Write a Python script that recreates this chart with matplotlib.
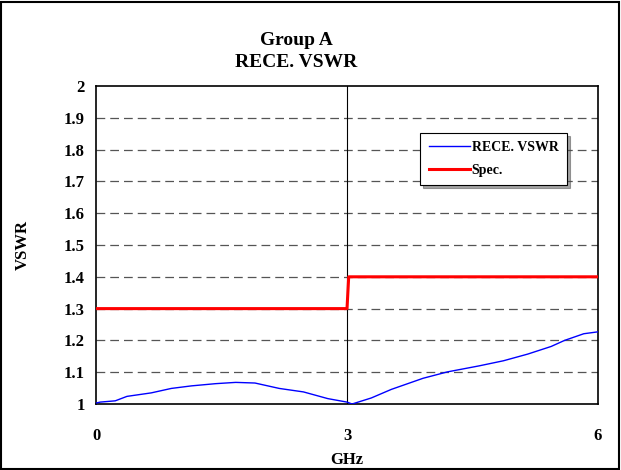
import matplotlib.pyplot as plt
from matplotlib.patches import Rectangle

freq = [0.0, 0.05, 0.23, 0.37, 0.66, 0.9, 1.14, 1.43, 1.67, 1.9, 2.19, 2.48, 2.77, 3.0, 3.06,
        3.29, 3.53, 3.91, 4.2, 4.58, 4.87, 5.16, 5.44, 5.6, 5.83, 6.0]
vswr = [1.003, 1.006, 1.01, 1.024, 1.035, 1.049, 1.057, 1.064, 1.068, 1.066, 1.049, 1.038, 1.017,
        1.006, 1.0, 1.019, 1.046, 1.081, 1.101, 1.12, 1.136, 1.157, 1.181, 1.2, 1.221, 1.227]

spec_x = [0, 3.0, 3.02, 6]
spec_y = [1.3, 1.3, 1.4, 1.4]

plt.rcParams["font.family"] = "Liberation Serif"
plt.rcParams["font.weight"] = "bold"

fig = plt.figure(figsize=(6.21, 4.70), dpi=100)
ax = fig.add_axes([0.1546, 0.1404, 0.8084, 0.6766])

for y in [1.1, 1.2, 1.3, 1.4, 1.5, 1.6, 1.7, 1.8, 1.9]:
    ax.axhline(y, color="#555555", lw=0.9, ls=(0, (7, 4)), zorder=1)
ax.axvline(3, color="black", lw=0.8, zorder=1)

ax.plot(freq, vswr, color="#0000ff", lw=1.0, label="RECE. VSWR", zorder=3)
ax.plot(spec_x, spec_y, color="#ff0000", lw=2.2, label="Spec.", zorder=3)

ax.set_xlim(0, 6)
ax.set_ylim(1, 2)
ax.set_xticks([0, 3, 6])
ax.set_xticklabels(["0", "3", "6"])
ax.set_yticks([1, 1.1, 1.2, 1.3, 1.4, 1.5, 1.6, 1.7, 1.8, 1.9, 2])
ax.set_yticklabels(["1", "1.1", "1.2", "1.3", "1.4", "1.5", "1.6", "1.7", "1.8", "1.9", "2"])
ax.tick_params(length=0, labelsize=12, pad=8)
ax.tick_params(axis="x", pad=17)
for s in ax.spines.values():
    s.set_linewidth(1.2)

ax.set_xlabel("GHz", fontsize=12, fontweight="bold", labelpad=6)
ax.set_ylabel("VSWR", fontsize=12, fontweight="bold", labelpad=24)
fig.text(0.477, 0.913, "Group A", ha="center", va="center", fontsize=14, fontweight="bold")
fig.text(0.477, 0.866, "RECE. VSWR", ha="center", va="center", fontsize=14, fontweight="bold")

leg = ax.legend(loc="upper left", bbox_to_anchor=(0.646, 0.853), frameon=True, fancybox=False,
                shadow=True, fontsize=10, handlelength=3.0, handletextpad=0.1,
                borderpad=0.6, labelspacing=0.7, borderaxespad=0)
leg.get_frame().set_edgecolor("black")
leg.get_frame().set_linewidth(0.8)

fig.add_artist(Rectangle((0.002, 0.003), 0.995, 0.993, transform=fig.transFigure,
                         fill=False, edgecolor="black", lw=1.5))

fig.savefig("out.png", dpi=100)
